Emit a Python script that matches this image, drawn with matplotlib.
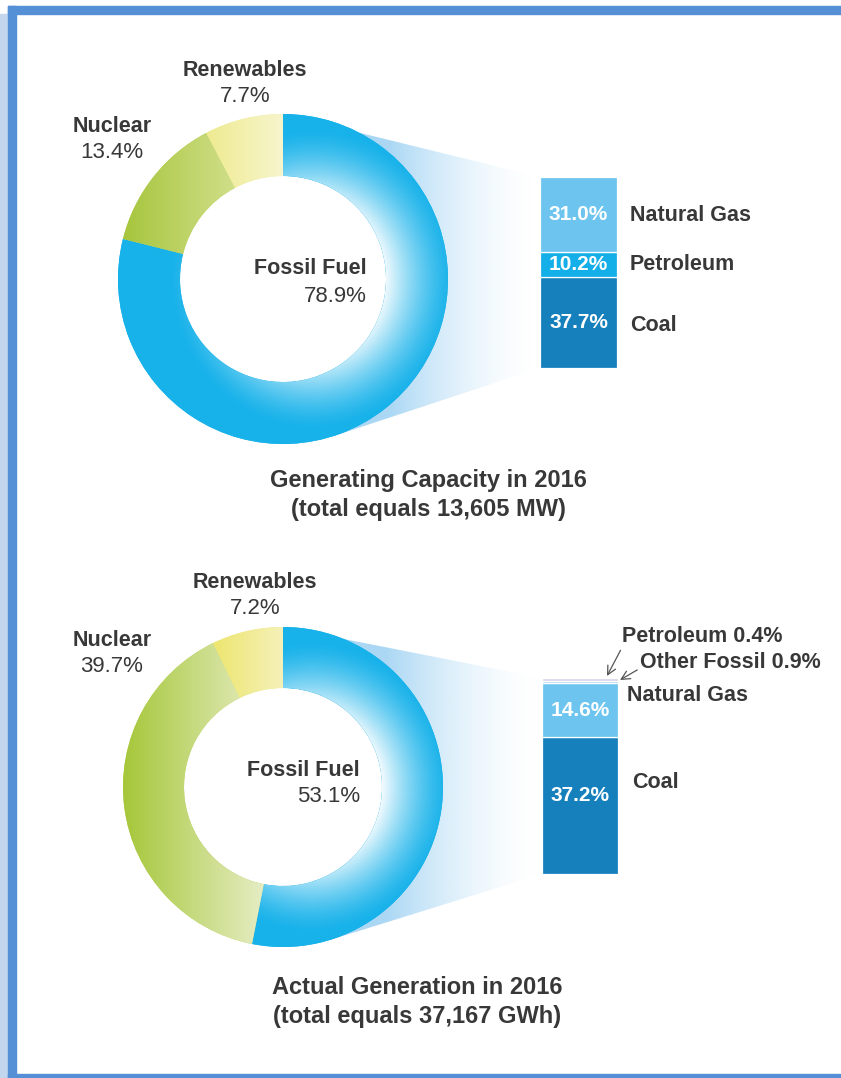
import numpy as np
import matplotlib
matplotlib.use('Agg')
import matplotlib.pyplot as plt
from matplotlib.patches import Rectangle, Circle, Polygon

plt.rcParams['font.family'] = ['Liberation Sans', 'DejaVu Sans']

W, H = 841, 1078
TXT = '#383838'

# ---- data ----
groups = ['Fossil Fuel', 'Nuclear', 'Renewables']
cap_share = [78.9, 13.4, 7.7]
gen_share = [53.1, 39.7, 7.2]

cap_fossil_names = ['Coal', 'Petroleum', 'Natural Gas']
cap_fossil = [37.7, 10.2, 31.0]
gen_fossil_names = ['Coal', 'Natural Gas', 'Petroleum', 'Other Fossil']
gen_fossil = [37.2, 14.6, 0.4, 0.9]

titles = ['Generating Capacity in 2016\n(total equals 13,605 MW)',
          'Actual Generation in 2016\n(total equals 37,167 GWh)']

fossil_col = {'Coal': '#1580bc', 'Petroleum': '#14aee8',
              'Natural Gas': '#6dc5ef', 'Other Fossil': '#d6d9ea'}
gen_petro_col = '#a9d3f0'


def fy(y):
    return H - y


def mix(c0, c1, s):
    c0 = np.array(c0) / 255.0
    c1 = np.array(c1) / 255.0
    s = s[..., None]
    return c0 * (1 - s) + c1 * s


def shade(ax, patch, ext, rgba):
    im = ax.imshow(rgba, extent=ext, origin='lower', interpolation='bilinear',
                   zorder=patch.get_zorder() + 0.01)
    im.set_clip_path(patch)


def tangent(cx, cy, R, px, py):
    d = np.hypot(px - cx, py - cy)
    a = np.arctan2(py - cy, px - cx) + np.arccos(R / d)
    return cx + R * np.cos(a), cy + R * np.sin(a)


def donut(ax, shares, cx, cy, R, r_in, bar, nuc_cols, ren_cols):
    bx0, btop, bbot = bar
    # funnel behind the ring
    tx, ty = tangent(cx, cy, R, bx0, bbot)
    pts = [(cx, fy(cy - R)), (bx0, fy(btop)), (bx0, fy(bbot)), (tx, fy(ty)), (cx, fy(cy))]
    poly = Polygon(pts, closed=True, facecolor='none', edgecolor='none', zorder=1)
    ax.add_patch(poly)
    xs = np.linspace(cx, bx0, 300)
    ys = np.linspace(fy(ty) - 5, fy(cy - R) + 5, 300)
    X, Y = np.meshgrid(xs, ys)
    a = np.clip((bx0 - X) / (bx0 - (cx + 0.65 * R)), 0, 1) ** 1.7 * 0.8
    rgba = np.zeros(X.shape + (4,))
    rgba[..., 0] = 150 / 255
    rgba[..., 1] = 206 / 255
    rgba[..., 2] = 242 / 255
    rgba[..., 3] = a
    shade(ax, poly, (cx, bx0, ys[0], ys[-1]), rgba)
    ax.add_patch(Circle((cx, fy(cy)), r_in, facecolor='white', edgecolor='none', zorder=2))

    wedges, _ = ax.pie(shares, startangle=90, counterclock=False, radius=R,
                       center=(cx, fy(cy)), frame=True,
                       colors=['#18b2ea', nuc_cols[0], ren_cols[0]],
                       wedgeprops=dict(width=R - r_in, linewidth=0, zorder=3))
    n = 400
    ext = (cx - R, cx + R, fy(cy) - R, fy(cy) + R)
    X, Y = np.meshgrid(np.linspace(ext[0], ext[1], n), np.linspace(ext[2], ext[3], n))
    u = (X - cx) / R
    v = (Y - fy(cy)) / R
    t = np.hypot(u - 0.18, v * 0.95)
    w = np.clip((0.86 - t) / 0.42, 0, 1) ** 1.4 * 0.95
    shade(ax, wedges[0], ext, mix((24, 178, 234), (255, 255, 255), w))
    shade(ax, wedges[1], ext, mix(nuc_cols[1], nuc_cols[2], np.clip(u + 1, 0, 1)))
    shade(ax, wedges[2], ext, mix(ren_cols[1], ren_cols[2], np.clip((u + 0.5) / 0.5, 0, 1)))


def txt(ax, x, y, s, bold=False, size=15.5, **kw):
    kw.setdefault('ha', 'center')
    ax.text(x, fy(y), s, fontsize=size, color=kw.pop('color', TXT),
            fontweight='bold' if bold else 'normal', va='center', **kw)


fig = plt.figure(figsize=(W / 100, H / 100), dpi=100)
ax = fig.add_axes([0, 0, 1, 1])

# frame
ax.add_patch(Rectangle((0, 0), 8, fy(14), color='#c3d6ee', zorder=0))
ax.add_patch(Rectangle((8, 0), 8, fy(6), color='#5590d6', zorder=0))
ax.add_patch(Rectangle((8, fy(14)), W, 8, color='#5590d6', zorder=0))
ax.add_patch(Rectangle((8, 0), W, 4, color='#5590d6', zorder=0))

bar1 = (540, 177, 368)
bar2 = (542, 678, 874)
donut(ax, cap_share, 283, 279, 165, 103, bar1,
      ['#b5d050', (165, 196, 58), (226, 234, 170)],
      ['#f0ed9e', (238, 234, 140), (247, 245, 205)])
donut(ax, gen_share, 283, 787, 160, 99, bar2,
      ['#b5d050', (166, 199, 58), (238, 242, 214)],
      ['#eee57a', (236, 228, 100), (245, 241, 185)])


def stack(values, bar, x1, colors):
    bx0, btop, bbot = bar
    bx = fig.add_axes([bx0 / W, (H - bbot) / H, (x1 - bx0) / W, (bbot - btop) / H])
    bottoms = np.concatenate([[0], np.cumsum(values)[:-1]])
    bx.bar(0, values, bottom=bottoms, width=1, color=colors,
           edgecolor='white', linewidth=0.9)
    bx.set_xlim(-0.5, 0.5)
    bx.set_ylim(0, sum(values))
    bx.axis('off')
    return bx, bottoms + np.array(values) / 2


# top stacked bar
bx, mids = stack(cap_fossil, bar1, 617, [fossil_col[n] for n in cap_fossil_names])
side_dy = {'Coal': -3, 'Petroleum': 0, 'Natural Gas': -1}
for name, val, m in zip(cap_fossil_names, cap_fossil, mids):
    bx.annotate(f'{val:.1f}%', (0, m), xytext=(0, 0), textcoords='offset pixels',
                ha='center', va='center', color='white', fontsize=15,
                fontweight='bold')
    bx.annotate(name, (0.5, m), xytext=(13, side_dy[name]), textcoords='offset pixels',
                ha='left', va='center', color=TXT, fontsize=15.5, fontweight='bold')

# bottom stacked bar
gcols = [fossil_col['Coal'], fossil_col['Natural Gas'], gen_petro_col, fossil_col['Other Fossil']]
bx2, mids2 = stack(gen_fossil, bar2, 618, gcols)
for name, val, m, dy, dx in zip(gen_fossil_names[:2], gen_fossil[:2], mids2[:2], [10, 14], [14, 9]):
    bx2.annotate(f'{val:.1f}%', (0, m), xytext=(0, dy if name == 'Coal' else -1),
                 textcoords='offset pixels', ha='center', va='center', color='white',
                 fontsize=15, fontweight='bold')
    bx2.annotate(name, (0.5, m), xytext=(dx, 23 if name == 'Coal' else dy),
                 textcoords='offset pixels', ha='left', va='center', color=TXT,
                 fontsize=15.5, fontweight='bold')

ax.annotate(f'{gen_fossil_names[2]} {gen_fossil[2]}%', xy=(607, fy(676)), xytext=(622, fy(637)),
            ha='left', va='center', fontsize=15.5, fontweight='bold', color=TXT,
            arrowprops=dict(arrowstyle='->', color='#555555', lw=0.9,
                            shrinkA=0, shrinkB=0, relpos=(0, 0)))
ax.annotate(f'{gen_fossil_names[3]} {gen_fossil[3]}%', xy=(620, fy(680)), xytext=(640, fy(662)),
            ha='left', va='center', fontsize=15.5, fontweight='bold', color=TXT,
            arrowprops=dict(arrowstyle='->', color='#555555', lw=0.9,
                            shrinkA=0, shrinkB=0, relpos=(0, 0.2)))

# donut labels, top
txt(ax, 245, 70, groups[2], bold=True)
txt(ax, 245, 97, f'{cap_share[2]}%', size=16)
txt(ax, 112, 126, groups[1], bold=True)
txt(ax, 112, 153, f'{cap_share[1]}%', size=16)
txt(ax, 367, 268, groups[0], bold=True, ha='right')
txt(ax, 367, 296, f'{cap_share[0]}%', size=16, ha='right')

# donut labels, bottom
txt(ax, 255, 582, groups[2], bold=True)
txt(ax, 255, 608, f'{gen_share[2]}%', size=16)
txt(ax, 112, 641, groups[1], bold=True)
txt(ax, 112, 667, f'{gen_share[1]}%', size=16)
txt(ax, 360, 770, groups[0], bold=True, ha='right')
txt(ax, 360, 797, f'{gen_share[0]}%', size=16, ha='right')

# titles
txt(ax, 428, 495, titles[0], bold=True, size=17, linespacing=1.35)
txt(ax, 417, 1002, titles[1], bold=True, size=17, linespacing=1.35)

ax.set_xlim(0, W)
ax.set_ylim(0, H)
ax.set_aspect('auto')
ax.axis('off')

fig.savefig('out.png', dpi=100)
